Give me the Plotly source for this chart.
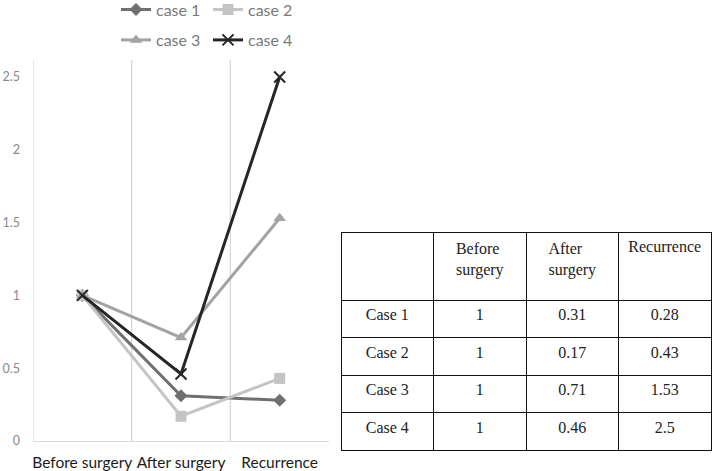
import plotly.graph_objects as go

categories = ["Before surgery", "After surgery", "Recurrence"]
header_labels = ["", "Before<br>surgery", "After<br>surgery", "Recurrence"]
case_names = ["case 1", "case 2", "case 3", "case 4"]
row_labels = ["Case 1", "Case 2", "Case 3", "Case 4"]
case1 = [1, 0.31, 0.28]
case2 = [1, 0.17, 0.43]
case3 = [1, 0.71, 1.53]
case4 = [1, 0.46, 2.5]
y_ticks = [0, 0.5, 1, 1.5, 2, 2.5]

series = [case1, case2, case3, case4]
colors = ["#707070", "#c4c4c4", "#a3a3a3", "#262626"]
symbols = ["diamond", "square", "triangle-up", "x-thin"]
msizes = [10, 11, 11, 11]
legend_ids = ["legend", "legend", "legend2", "legend2"]

W, H = 712, 471
ML, MR, MT, MB = 33, 0, 60, 15
PW, PH = W - ML - MR, H - MT - MB

def px_x(p):
    return (p - ML) / PW

def px_y(p):
    return (H - MB - p) / PH

fig = go.Figure()
xs = list(range(len(categories)))
for name, vals, c, s, ms, lg in zip(case_names, series, colors, symbols, msizes, legend_ids):
    fig.add_trace(go.Scatter(
        x=xs, y=vals, name=name, mode="lines+markers",
        line=dict(color=c, width=3),
        marker=dict(symbol=s, size=ms, color=c,
                    line=dict(color=c, width=2 if s == "x-thin" else 0)),
        legend=lg, cliponaxis=False,
    ))

# boundaries gridlines between categories
for i in range(len(categories)):
    fig.add_shape(type="line", xref="x", yref="y domain",
                  x0=i - 0.5, x1=i - 0.5, y0=0, y1=1,
                  line=dict(color="#d9d9d9", width=1.3), layer="below")

# table
cell_cols = [row_labels] + [[str(s[j]) for s in series] for j in range(len(categories))]
fig.add_trace(go.Table(
    domain=dict(x=[px_x(341), px_x(711)], y=[px_y(452), px_y(232)]),
    columnwidth=[1, 1, 1, 1],
    header=dict(values=header_labels, height=68,
                line=dict(color="#111111", width=1), fill=dict(color="white"),
                align="center",
                font=dict(family="Liberation Serif", size=16, color="#222222")),
    cells=dict(values=cell_cols, height=37.5,
               line=dict(color="#111111", width=1), fill=dict(color="white"),
               align="center",
               font=dict(family="Liberation Serif", size=16, color="#222222")),
))

fig.update_layout(
    width=W, height=H,
    margin=dict(l=ML, r=MR, t=MT, b=MB, autoexpand=False),
    paper_bgcolor="white", plot_bgcolor="white",
    font=dict(family="Lato", color="#595959"),
    xaxis=dict(domain=[0, px_x(329)], range=[-0.5, 2.5], automargin=False,
               tickvals=xs, ticktext=categories,
               showgrid=False, zeroline=False,
               showline=True, linecolor="#d9d9d9", linewidth=1.3,
               ticks="", ticklabelstandoff=7,
               tickfont=dict(family="Lato", size=15.5, color="#1a1a1a")),
    yaxis=dict(domain=[px_y(441), px_y(60)], range=[0, (441 - 60) / 145.6], automargin=False,
               tickvals=y_ticks, ticktext=[str(v) for v in y_ticks],
               showgrid=False, zeroline=False, showline=False,
               ticks="", ticklabelstandoff=12,
               tickfont=dict(family="Lato", size=12.5, color="#8a8a8a")),
    legend=dict(orientation="h", x=px_x(116), y=px_y(-7.5), xanchor="left", yanchor="top",
                entrywidth=47, entrywidthmode="pixels",
                font=dict(family="Lato", size=16, color="#7a7a7a"), bgcolor="rgba(0,0,0,0)"),
    legend2=dict(orientation="h", x=px_x(116), y=px_y(23), xanchor="left", yanchor="top",
                 entrywidth=47, entrywidthmode="pixels",
                 font=dict(family="Lato", size=16, color="#7a7a7a"), bgcolor="rgba(0,0,0,0)"),
)

fig.write_html("out.html", config={"displayModeBar": False},
               post_script="document.body.style.margin='0px';document.body.style.overflow='hidden';")
